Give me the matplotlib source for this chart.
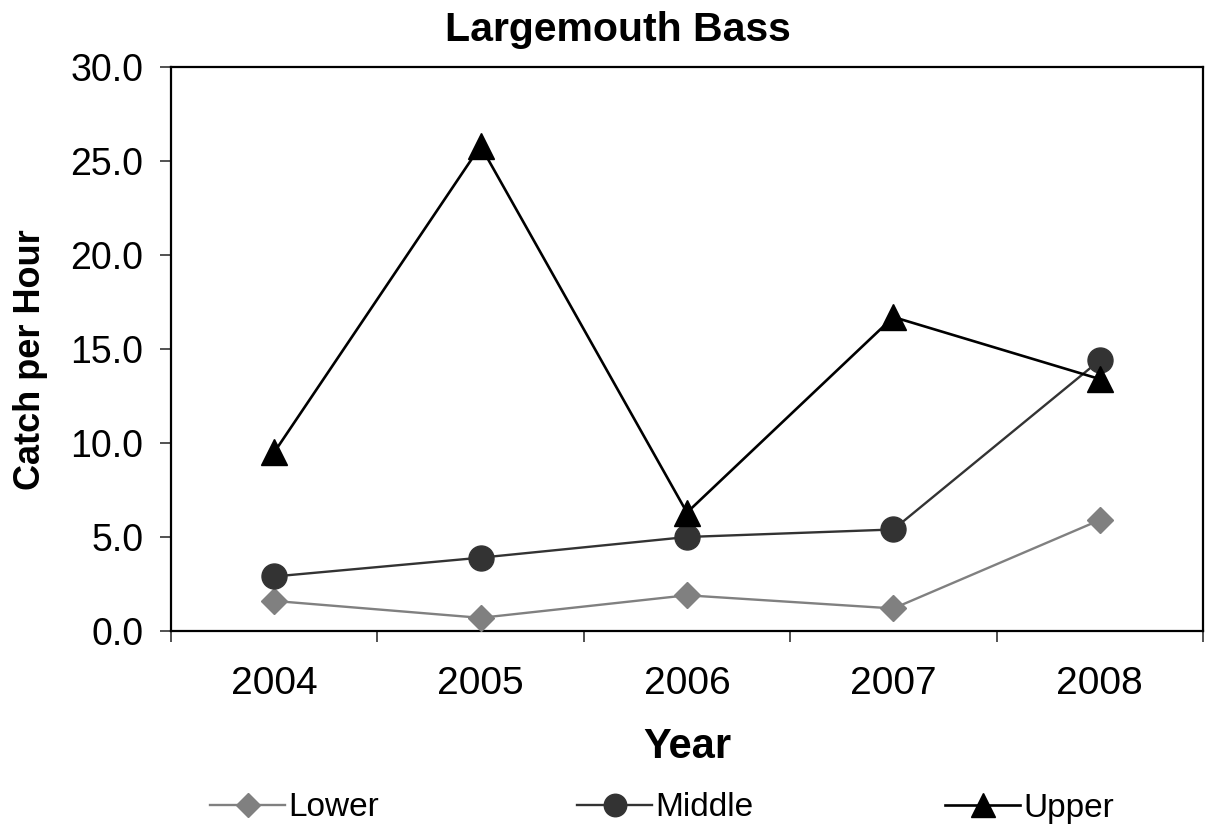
import matplotlib
matplotlib.use("Agg")
import matplotlib.pyplot as plt
import numpy as np

plt.rcParams['font.family'] = ['Liberation Sans', 'DejaVu Sans']

years = ["2004", "2005", "2006", "2007", "2008"]
lower = [1.6, 0.7, 1.9, 1.2, 5.9]
middle = [2.9, 3.9, 5.0, 5.4, 14.4]
upper = [9.5, 25.8, 6.3, 16.7, 13.4]
yticks = [0.0, 5.0, 10.0, 15.0, 20.0, 25.0, 30.0]

fig = plt.figure(figsize=(12.09, 8.34), dpi=100)
ax = fig.add_axes([0.1414, 0.2434, 0.8536, 0.6763])

x = np.arange(len(years))
ax.plot(x, lower, color='#808080', lw=1.7, marker='D', ms=13.5, mec='#808080', mfc='#808080', label='Lower', zorder=3)
ax.plot(x, middle, color='#333333', lw=1.7, marker='o', ms=18, mec='#333333', mfc='#333333', label='Middle', zorder=4)
ax.plot(x, upper, color='black', lw=1.9, marker='^', ms=19, mec='black', mfc='black', label='Upper', zorder=5)

ax.set_xlim(-0.5, len(years) - 0.5)
ax.set_ylim(0, 30)
ax.set_yticks(yticks)
ax.set_yticklabels([f"{v:.1f}" for v in yticks], fontsize=27)

ax.set_xticks(np.arange(len(years) + 1) - 0.5)
ax.set_xticklabels([])
ax.set_xticks(x, minor=True)
ax.set_xticklabels(years, minor=True, fontsize=28)
ax.tick_params(axis='x', which='major', direction='out', length=8, width=1.2, color='#333333')
ax.tick_params(axis='x', which='minor', length=0, pad=25)
ax.tick_params(axis='y', direction='out', length=8, width=1.2, color='#333333', pad=12)

for s in ax.spines.values():
    s.set_linewidth(1.6)

ax.set_title("Largemouth Bass", fontsize=29.5, fontweight='bold', pad=19, x=0.433)
ax.set_xlabel("Year", fontsize=30, fontweight='bold', labelpad=18)
ax.set_ylabel("Catch per Hour", fontsize=26, fontweight='bold', labelpad=20)
ax.yaxis.set_label_coords(-0.1195, 0.482)

handles, labels = ax.get_legend_handles_labels()
leg_x = [210 / 1209, 577 / 1209, 945 / 1209]
for h, lab, lx in zip(handles, labels, leg_x):
    fig.legend([h], [lab], loc='center left', bbox_to_anchor=(lx, 26 / 834),
               frameon=False, fontsize=24, handlelength=2.25, handletextpad=0.1,
               borderpad=0, borderaxespad=0, markerscale=0.9)

fig.savefig("out.png", dpi=100)
